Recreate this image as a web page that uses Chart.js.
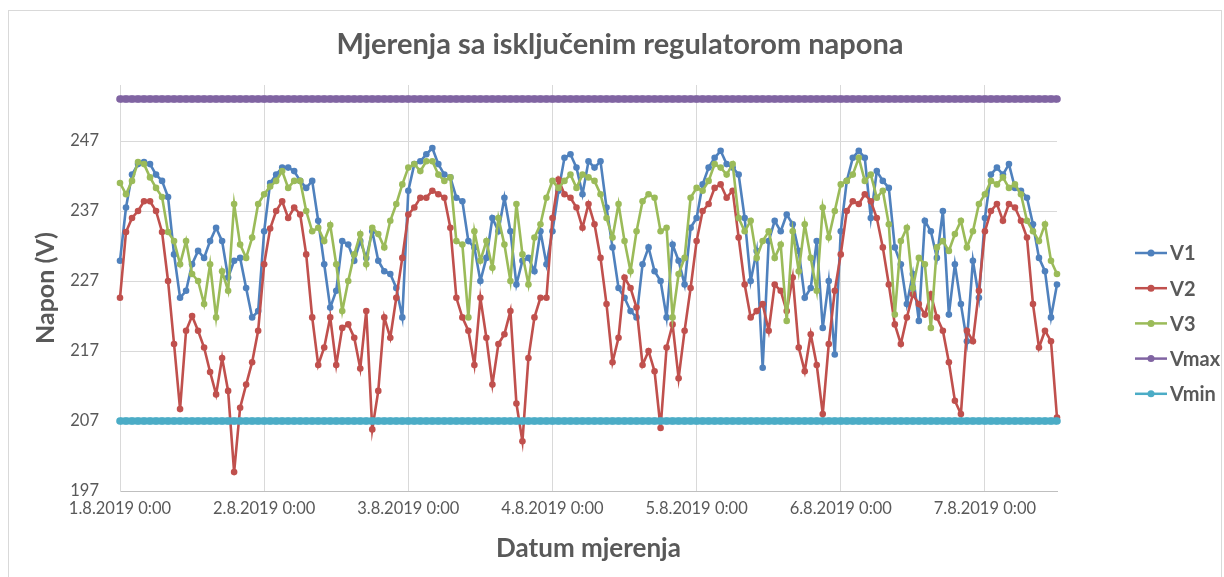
<!DOCTYPE html>
<html>
<head>
<meta charset="utf-8">
<script src="https://cdn.jsdelivr.net/npm/chart.js@4.4.0/dist/chart.umd.min.js"></script>
<style>
    html, body { margin: 0; padding: 0; background: #fff; }
    #wrap { width: 1224px; height: 577px; position: relative; }
</style>
</head>
<body>
<div id="wrap"><canvas id="graph" width="1224" height="577"></canvas></div>
<script>
// hourly readings, 1.8.2019 0:00 .. 7.8.2019 12:00
const v1 = [
    229.9, 237.5, 242.2, 243.7, 244.0, 243.7, 242.2, 241.3, 239.0, 230.8, 224.6, 225.6, 229.4, 231.3, 230.3, 232.7, 234.6, 232.7, 227.5, 229.9, 230.3, 226.0, 221.8, 222.7,
    234.1, 241.0, 242.2, 243.2, 243.2, 242.7, 241.3, 240.3, 241.3, 235.6, 229.4, 223.2, 225.6, 232.7, 232.2, 229.9, 232.7, 230.3, 234.1, 229.9, 228.4, 228.0, 226.0, 221.8,
    239.9, 243.7, 244.1, 245.1, 246.0, 243.7, 242.2, 241.8, 238.9, 238.4, 232.7, 231.8, 227.0, 230.3, 236.0, 234.1, 238.9, 234.1, 226.5, 229.9, 230.3, 228.4, 234.1, 229.4,
    234.1, 239.9, 244.6, 245.1, 243.2, 239.4, 244.1, 243.2, 244.1, 237.5, 231.8, 226.0, 224.6, 222.7, 221.8, 229.4, 231.8, 228.4, 227.0, 221.8, 232.2, 229.9, 226.5, 234.6,
    236.0, 240.8, 243.2, 244.6, 245.6, 243.7, 243.2, 242.2, 236.0, 227.0, 231.3, 214.6, 232.7, 235.6, 234.1, 236.5, 235.1, 231.3, 224.6, 226.0, 232.7, 220.3, 227.0, 216.5,
    234.1, 241.3, 244.6, 245.6, 244.6, 236.0, 242.7, 241.3, 240.3, 231.8, 229.4, 223.7, 228.0, 221.3, 235.6, 234.1, 230.3, 237.0, 222.2, 229.4, 223.7, 218.4, 229.9, 224.6,
    236.0, 242.2, 243.2, 242.2, 243.7, 240.3, 239.9, 238.9, 235.1, 230.3, 228.4, 221.8, 226.5
];
const v2 = [
    224.6, 234.0, 236.0, 237.0, 238.4, 238.4, 237.0, 234.0, 227.0, 218.0, 208.7, 219.9, 222.0, 219.9, 217.5, 214.0, 210.8, 216.0, 211.3, 199.7, 208.9, 212.2, 215.4, 219.9,
    229.4, 234.5, 237.0, 238.4, 236.0, 237.5, 236.5, 230.8, 221.8, 215.0, 217.5, 221.8, 215.0, 220.3, 220.8, 218.9, 214.5, 222.7, 205.8, 211.3, 221.8, 218.9, 224.6, 230.3,
    236.5, 237.5, 238.9, 238.9, 239.9, 239.4, 238.9, 234.6, 224.6, 221.8, 219.9, 215.0, 224.6, 218.9, 212.2, 218.0, 219.4, 222.7, 209.5, 204.1, 216.0, 221.8, 224.6, 224.6,
    236.0, 241.5, 239.4, 238.9, 237.5, 234.6, 238.0, 235.1, 230.3, 223.7, 215.4, 218.9, 227.5, 226.0, 223.2, 215.0, 217.0, 214.1, 206.0, 217.5, 220.8, 213.1, 219.9, 226.0,
    232.7, 237.0, 238.0, 240.3, 240.8, 238.9, 239.9, 233.2, 226.5, 221.8, 222.7, 223.7, 219.9, 226.5, 225.6, 222.7, 227.5, 217.5, 214.1, 219.4, 215.0, 208.0, 218.0, 225.6,
    230.8, 237.0, 238.4, 238.0, 239.4, 238.4, 236.0, 231.8, 226.5, 220.8, 218.0, 221.8, 225.1, 223.7, 222.2, 225.1, 221.8, 219.9, 215.4, 209.9, 208.0, 219.9, 218.4, 225.6,
    234.1, 237.0, 238.0, 235.6, 238.0, 237.5, 235.6, 233.2, 223.7, 217.5, 219.9, 218.4, 207.5
];
const v3 = [
    241.0, 239.4, 241.3, 244.0, 243.7, 241.8, 240.3, 239.0, 234.0, 232.7, 229.4, 232.7, 228.0, 227.0, 223.7, 229.4, 221.8, 228.4, 225.6, 238.0, 232.2, 230.3, 233.2, 238.0,
    239.4, 240.5, 241.3, 242.7, 240.3, 241.3, 241.3, 237.0, 234.1, 234.6, 232.7, 235.0, 229.4, 222.7, 227.0, 230.8, 233.7, 229.4, 234.6, 233.7, 231.8, 235.6, 238.0, 240.8,
    243.2, 243.7, 242.7, 244.1, 244.1, 242.2, 241.3, 241.8, 232.7, 232.2, 221.8, 234.1, 229.9, 232.7, 228.9, 236.0, 232.2, 227.0, 238.0, 230.8, 226.5, 233.2, 235.1, 238.9,
    241.3, 240.3, 241.3, 242.2, 240.3, 242.2, 241.8, 241.3, 239.4, 236.0, 233.2, 238.0, 232.7, 228.4, 234.1, 238.4, 239.4, 238.9, 234.1, 234.6, 221.8, 228.0, 230.3, 238.9,
    240.3, 239.9, 241.3, 243.7, 243.2, 242.2, 243.7, 236.0, 234.1, 235.6, 230.3, 232.7, 234.1, 230.3, 232.2, 221.3, 234.1, 228.4, 235.1, 230.3, 225.6, 237.5, 233.2, 237.0,
    240.8, 241.3, 242.2, 244.6, 241.3, 242.2, 238.9, 239.9, 235.1, 222.2, 232.7, 234.6, 226.0, 230.3, 229.4, 220.3, 231.8, 232.7, 231.3, 233.7, 235.6, 231.8, 234.1, 238.0,
    239.4, 241.3, 240.8, 241.8, 240.3, 240.8, 239.4, 235.6, 234.1, 232.7, 235.1, 229.9, 228.0
];
const vmaxLevel = 253;
const vminLevel = 207;
const dayLabels = ['1.8.2019 0:00', '2.8.2019 0:00', '3.8.2019 0:00', '4.8.2019 0:00', '5.8.2019 0:00', '6.8.2019 0:00', '7.8.2019 0:00'];
const yTicks = [197, 207, 217, 227, 237, 247];

const seriesNames = ['V1', 'V2', 'V3', 'Vmax', 'Vmin'];
const seriesColors = ['#4F81BD', '#C0504D', '#9BBB59', '#8064A2', '#4BACC6'];

const FONT = 'Lato, "Open Sans", sans-serif';
const TEXT = '#595959';

const toPoints = arr => arr.map((v, i) => ({ x: i, y: v }));
const flat = level => v1.map((_, i) => ({ x: i, y: level }));

// frame, title and legend drawn straight on the canvas
const decor = {
    id: 'decor',
    beforeDraw(chart) {
        const c = chart.ctx;
        c.save();
        c.fillStyle = '#fff';
        c.fillRect(0, 0, chart.width, chart.height);
        c.strokeStyle = '#d9d9d9';
        c.lineWidth = 1;
        c.strokeRect(8.5, 10.5, 1213, 580);
        c.restore();
    },
    afterDraw(chart) {
        const c = chart.ctx;
        c.save();
        c.fillStyle = TEXT;
        c.font = 'bold 29px ' + FONT;
        c.textAlign = 'center';
        c.textBaseline = 'middle';
        c.fillText('Mjerenja sa isključenim regulatorom napona', 620, 45);

        c.font = 'bold 20px ' + FONT;
        c.textAlign = 'left';
        seriesNames.forEach((name, i) => {
            const y = 253 + i * 35.2;
            c.strokeStyle = seriesColors[i];
            c.lineWidth = 2.5;
            c.beginPath();
            c.moveTo(1135, y);
            c.lineTo(1167, y);
            c.stroke();
            c.fillStyle = seriesColors[i];
            c.beginPath();
            c.arc(1151, y, 3.5, 0, Math.PI * 2);
            c.fill();
            c.fillStyle = TEXT;
            c.fillText(name, 1170, y + 1);
        });
        c.restore();
    }
};

function line(label, data, color, order, radius, width) {
    return {
        label: label,
        data: data,
        borderColor: color,
        backgroundColor: color,
        borderWidth: width,
        pointRadius: radius,
        pointBorderWidth: 0,
        pointHoverRadius: radius,
        tension: 0,
        order: order,
        clip: false
    };
}

const ctx = document.getElementById('graph').getContext('2d');
new Chart(ctx, {
    type: 'line',
    data: {
        datasets: [
            line('V1', toPoints(v1), seriesColors[0], 4, 3.3, 2.6),
            line('V2', toPoints(v2), seriesColors[1], 3, 3.3, 2.6),
            line('V3', toPoints(v3), seriesColors[2], 2, 3.3, 2.6),
            line('Vmax', flat(vmaxLevel), seriesColors[3], 1, 3.8, 7),
            line('Vmin', flat(vminLevel), seriesColors[4], 0, 3.8, 7)
        ]
    },
    options: {
        responsive: false,
        animation: false,
        events: [],
        layout: { padding: { top: 85, right: 167, left: 0, bottom: 0 } },
        plugins: {
            legend: { display: false },
            title: { display: false },
            tooltip: { enabled: false }
        },
        scales: {
            x: {
                type: 'linear',
                min: 0,
                max: v1.length - 1,
                afterBuildTicks: (scale) => {
                    scale.ticks = dayLabels.map((_, i) => ({ value: i * 24 }));
                },
                afterFit: (scale) => { scale.height = 86; },
                ticks: {
                    stepSize: 24,
                    padding: 8,
                    maxRotation: 0,
                    autoSkip: false,
                    color: TEXT,
                    font: { family: FONT, size: 16.5 },
                    callback: (value) => dayLabels[value / 24]
                },
                grid: { color: '#d9d9d9', drawTicks: false },
                border: { color: '#bfbfbf' },
                title: {
                    display: true,
                    text: 'Datum mjerenja',
                    color: TEXT,
                    font: { family: FONT, size: 26, weight: 'bold' },
                    padding: { top: 0, bottom: 13 }
                }
            },
            y: {
                min: 197,
                max: 255,
                afterBuildTicks: (scale) => {
                    scale.ticks = yTicks.map(v => ({ value: v }));
                },
                afterFit: (scale) => { scale.width = 120; },
                ticks: {
                    padding: 21,
                    color: TEXT,
                    font: { family: FONT, size: 16.5 }
                },
                grid: { color: '#d9d9d9', drawTicks: false },
                border: { color: '#d9d9d9' },
                title: {
                    display: true,
                    text: 'Napon (V)',
                    color: TEXT,
                    font: { family: FONT, size: 25, weight: 'bold' },
                    padding: { top: 31, bottom: 0 }
                }
            }
        }
    },
    plugins: [decor]
});
</script>
</body>
</html>
